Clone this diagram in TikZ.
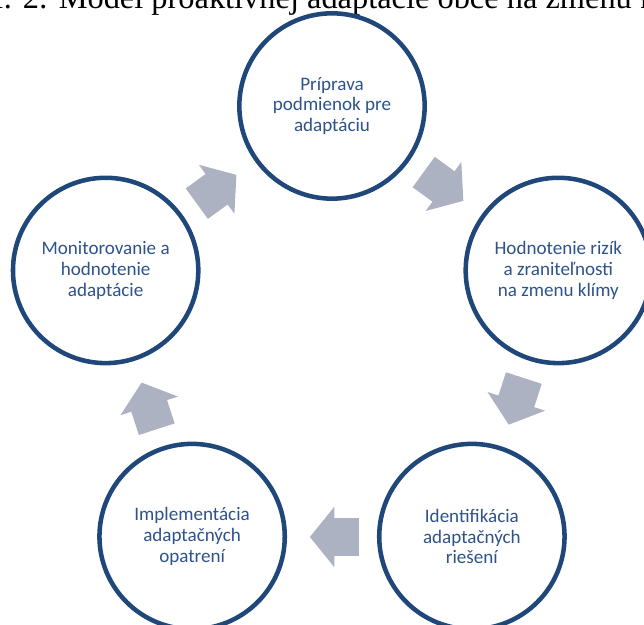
\documentclass[tikz,border=0pt]{standalone}
\usepackage{fontspec}
\setmainfont{Liberation Serif}
\newfontfamily\calib{Carlito}
\usepackage{tikz}
\usetikzlibrary{shapes,shapes.arrows,calc}
\definecolor{ringblue}{RGB}{31,71,122}
\definecolor{textblue}{RGB}{45,82,140}
\definecolor{arrowgray}{RGB}{172,178,193}
\tikzset{
    stepcirc/.style={draw=ringblue, circle, line width=3.4pt, inner sep=0pt, minimum size=139pt,
        font=\calib\fontsize{14.3}{15.5}\selectfont, text=textblue, align=center},
    cycarrow/.style={single arrow, fill=arrowgray, draw=none, inner xsep=0pt, inner ysep=13.9pt,
        single arrow head extend=8.6pt, single arrow tip angle=102, minimum height=36.75pt}}

\begin{document}
\begin{tikzpicture}[x=0.75pt,y=0.75pt]
\useasboundingbox (0,0) rectangle (644,625);
\clip (0,0) rectangle (644,625);
% caption, cut by the page top
\node[anchor=base west, inner sep=0pt, font=\fontsize{24.3}{28}\selectfont] (title) at (-45,616.5)
    {Obr. 2: Model proaktívnej adaptácie obce na zmenu klímy};
\coordinate (O) at (332,281);

\node[stepcirc] (c1) at ($(O)+(90:238)$) {Príprava\\podmienok pre\\adaptáciu};
\node[stepcirc] (c2) at ($(O)+(18:238)$) {Hodnotenie rizík\\a zraniteľnosti\\na zmenu klímy};
\node[stepcirc] (c3) at ($(O)+(-54:238)$) {Identifikácia\\adaptačných\\riešení};
\node[stepcirc] (c4) at ($(O)+(-126:238)$) {Implementácia\\adaptačných\\opatrení};
\node[stepcirc] (c5) at ($(O)+(162:238)$) {Monitorovanie a\\hodnotenie\\adaptácie};

% block arrows between the steps
\node[cycarrow, rotate=-36] (a12) at ($(O)+(54:193)+(144:10)$) {};
\node[cycarrow, rotate=-108] (a23) at ($(O)+(-18:193)+(72:10)$) {};
\node[cycarrow, rotate=-180] (a34) at ($(O)+(-90:193)+(0:10)$) {};
\node[cycarrow, rotate=108] (a45) at ($(O)+(-162:193)+(-72:10)$) {};
\node[cycarrow, rotate=36] (a51) at ($(O)+(126:193)+(216:10)$) {};
\end{tikzpicture}
\end{document}
